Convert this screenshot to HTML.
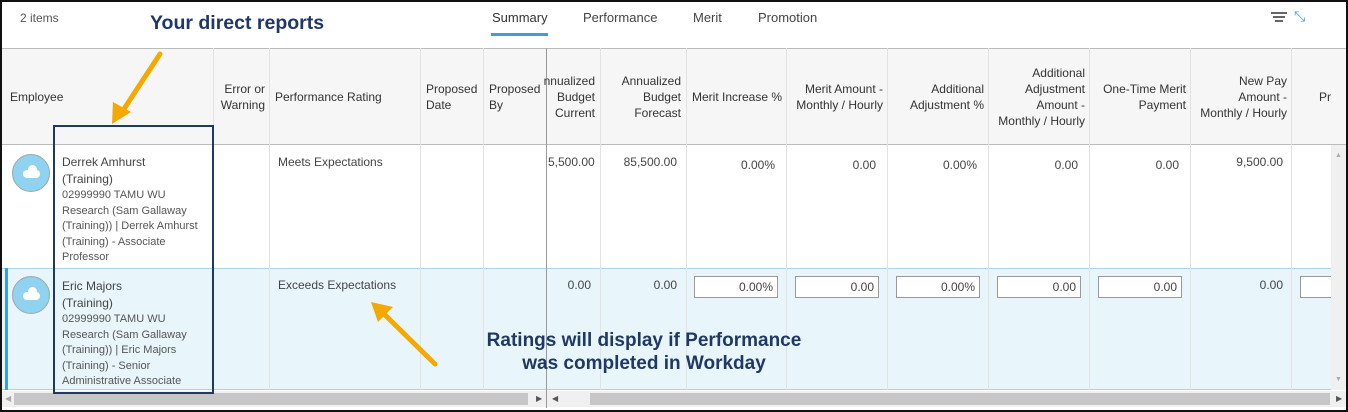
<!DOCTYPE html>
<html><head><style>
*{margin:0;padding:0;box-sizing:border-box}
body{width:1348px;height:412px;overflow:hidden;background:#fff;font-family:"Liberation Sans",sans-serif;font-size:12px;color:#333;position:relative}
.a{position:absolute}
.vl{position:absolute;width:1px;background:#e2e2e2}
.h{position:absolute;top:48px;height:97px;display:flex;align-items:center;line-height:16px;color:#333;font-size:12px}
.r{text-align:right;justify-content:flex-end}
.c{position:absolute;font-size:12px;color:#444}
.in{position:absolute;width:84px;height:22px;border:1px solid #999;background:#fff;text-align:right;padding-right:4px;line-height:20px;font-size:12px;color:#444}
.av{position:absolute;left:12px;width:38px;height:38px;border-radius:50%;background:#8fd3f0;border:1px solid #9aa}
.av:after{content:"";position:absolute;left:10px;top:15px;width:17px;height:8px;background:#fff;border-radius:5px}
.av:before{content:"";position:absolute;left:15px;top:10px;width:9px;height:9px;background:#fff;border-radius:50%}
</style></head><body>
<div class="a" style="left:0;top:0;width:1348px;height:412px;border:2px solid #111;z-index:20;pointer-events:none"></div>
<div class="a" style="left:20px;top:11px;font-size:12px;color:#555">2 items</div>
<div class="a" style="left:150px;top:12px;font-size:19.5px;font-weight:bold;color:#1f3864">Your direct reports</div>
<div class="a" style="left:492px;top:10px;font-size:13px;color:#333">Summary</div>
<div class="a" style="left:491px;top:33px;width:57px;height:3px;background:#3a9ee4"></div>
<div class="a" style="left:583px;top:10px;font-size:13px;color:#444">Performance</div>
<div class="a" style="left:693px;top:10px;font-size:13px;color:#444">Merit</div>
<div class="a" style="left:758px;top:10px;font-size:13px;color:#444">Promotion</div>
<div class="a" style="left:1271px;top:12px;width:16px;height:2px;background:#666"></div>
<div class="a" style="left:1273px;top:16px;width:12px;height:2px;background:#666"></div>
<div class="a" style="left:1275px;top:20px;width:8px;height:2px;background:#666"></div>
<div class="a" style="left:1294px;top:8px;font-size:14px;color:#3a9ee4">⤡</div>
<div class="a" style="left:2px;top:48px;width:1344px;height:97px;background:#f6f6f6;border-top:1px solid #bbb;border-bottom:1px solid #bbb"></div>
<div class="a" style="left:2px;top:268px;width:1329px;height:122px;background:#e8f6fb;border-top:1px solid #a8d4e6;border-bottom:1px solid #a8d4e6"></div>
<div class="a" style="left:5px;top:268px;width:3px;height:122px;background:#3a9ee4"></div>
<div class="vl" style="left:213px;top:48px;height:342px"></div>
<div class="vl" style="left:269px;top:48px;height:342px"></div>
<div class="vl" style="left:420px;top:48px;height:342px"></div>
<div class="vl" style="left:483px;top:48px;height:342px"></div>
<div class="vl" style="left:546px;top:48px;height:360px;background:#999"></div>
<div class="vl" style="left:600px;top:48px;height:342px"></div>
<div class="vl" style="left:686px;top:48px;height:342px"></div>
<div class="vl" style="left:786px;top:48px;height:342px"></div>
<div class="vl" style="left:887px;top:48px;height:342px"></div>
<div class="vl" style="left:988px;top:48px;height:342px"></div>
<div class="vl" style="left:1089px;top:48px;height:342px"></div>
<div class="vl" style="left:1190px;top:48px;height:342px"></div>
<div class="vl" style="left:1291px;top:48px;height:342px"></div>
<div class="h" style="left:10px">Employee</div>
<div class="h r" style="left:213px;width:52px">Error or<br>Warning</div>
<div class="h" style="left:275px">Performance Rating</div>
<div class="h" style="left:426px">Proposed<br>Date</div>
<div class="h" style="left:489px">Proposed<br>By</div>
<div class="h r" style="left:540px;width:55px;overflow:hidden">nnualized<br>Budget<br>Current</div>
<div class="h r" style="left:600px;width:81px">Annualized<br>Budget<br>Forecast</div>
<div class="h" style="left:692px">Merit Increase %</div>
<div class="h r" style="left:786px;width:97px">Merit Amount -<br>Monthly / Hourly</div>
<div class="h r" style="left:887px;width:97px">Additional<br>Adjustment %</div>
<div class="h r" style="left:988px;width:97px">Additional<br>Adjustment<br>Amount -<br>Monthly / Hourly</div>
<div class="h r" style="left:1089px;width:97px">One-Time Merit<br>Payment</div>
<div class="h r" style="left:1190px;width:97px">New Pay<br>Amount -<br>Monthly / Hourly</div>
<div class="h" style="left:1319px">Pr</div>
<div class="av" style="top:154px"></div>
<div class="c" style="left:62px;top:154px;line-height:17px">Derrek Amhurst<br>(Training)</div>
<div class="c" style="left:62px;top:188px;line-height:15.5px;font-size:11px;color:#555">02999990 TAMU WU<br>Research (Sam Gallaway<br>(Training)) | Derrek Amhurst<br>(Training) - Associate<br>Professor</div>
<div class="c" style="left:278px;top:155px">Meets Expectations</div>
<div class="c" style="left:548px;top:155px">5,500.00</div>
<div class="c" style="left:600px;top:155px;width:77px;text-align:right">85,500.00</div>
<div class="c" style="left:686px;top:158px;width:89px;text-align:right">0.00%</div>
<div class="c" style="left:786px;top:158px;width:90px;text-align:right">0.00</div>
<div class="c" style="left:887px;top:158px;width:90px;text-align:right">0.00%</div>
<div class="c" style="left:988px;top:158px;width:90px;text-align:right">0.00</div>
<div class="c" style="left:1089px;top:158px;width:90px;text-align:right">0.00</div>
<div class="c" style="left:1190px;top:155px;width:93px;text-align:right">9,500.00</div>
<div class="av" style="top:276px"></div>
<div class="c" style="left:62px;top:278px;line-height:17px">Eric Majors<br>(Training)</div>
<div class="c" style="left:62px;top:312px;line-height:15.5px;font-size:11px;color:#555">02999990 TAMU WU<br>Research (Sam Gallaway<br>(Training)) | Eric Majors<br>(Training) - Senior<br>Administrative Associate</div>
<div class="c" style="left:278px;top:278px">Exceeds Expectations</div>
<div class="c" style="left:546px;top:278px;width:45px;text-align:right">0.00</div>
<div class="c" style="left:600px;top:278px;width:77px;text-align:right">0.00</div>
<div class="in" style="left:694px;top:276px">0.00%</div>
<div class="in" style="left:795px;top:276px">0.00</div>
<div class="in" style="left:896px;top:276px">0.00%</div>
<div class="in" style="left:997px;top:276px">0.00</div>
<div class="in" style="left:1098px;top:276px">0.00</div>
<div class="c" style="left:1190px;top:278px;width:93px;text-align:right">0.00</div>
<div class="in" style="left:1300px;top:276px;width:31px;border-right:none"></div>
<div class="a" style="left:1331px;top:145px;width:15px;height:245px;background:#f0f0f0"></div>
<div class="a" style="left:1335px;top:152px;font-size:7px;color:#aaa">▲</div>
<div class="a" style="left:1335px;top:376px;font-size:7px;color:#aaa">▼</div>
<div class="a" style="left:2px;top:391px;width:544px;height:16px;background:#f0f0f0"></div>
<div class="a" style="left:14px;top:393px;width:514px;height:12px;background:#c6c6c6"></div>
<div class="a" style="left:5px;top:394px;font-size:8px;color:#aaa">◀</div>
<div class="a" style="left:536px;top:394px;font-size:8px;color:#555">▶</div>
<div class="a" style="left:547px;top:391px;width:799px;height:16px;background:#f0f0f0"></div>
<div class="a" style="left:590px;top:393px;width:740px;height:12px;background:#c6c6c6"></div>
<div class="a" style="left:552px;top:394px;font-size:8px;color:#555">◀</div>
<div class="a" style="left:1336px;top:394px;font-size:8px;color:#555">▶</div>
<div class="a" style="left:53px;top:125px;width:161px;height:269px;border:2px solid #1f3864"></div>
<svg class="a" style="left:0;top:0" width="1348" height="412">
<line x1="160" y1="54" x2="122" y2="112" stroke="#f5a800" stroke-width="5" stroke-linecap="round"/>
<polygon points="112,124 113,102 131,112" fill="#f5a800"/>
<line x1="435" y1="364" x2="382" y2="312" stroke="#f5a800" stroke-width="5" stroke-linecap="round"/>
<polygon points="371,302 393,307 378,322" fill="#f5a800"/>
</svg>
<div class="a" style="left:424px;top:329px;width:440px;text-align:center;font-size:19px;font-weight:bold;color:#1f3864;line-height:23px">Ratings will display if Performance<br>was completed in Workday</div>
</body></html>
